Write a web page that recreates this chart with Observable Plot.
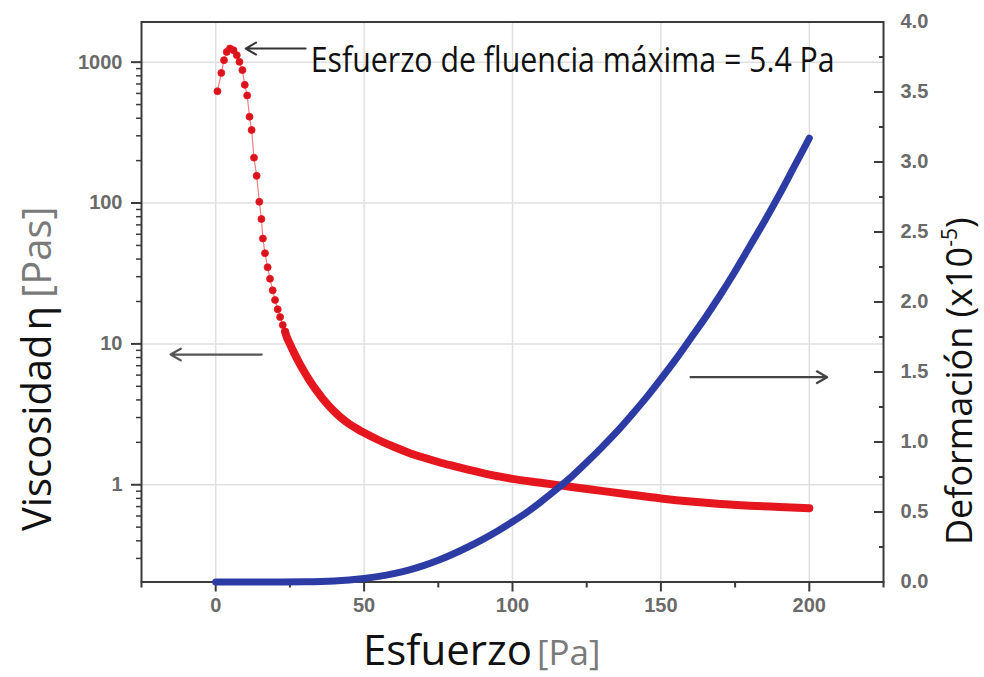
<!DOCTYPE html>
<html><head><meta charset="utf-8">
<script src="https://cdn.jsdelivr.net/npm/d3@7"></script>
<script src="https://cdn.jsdelivr.net/npm/@observablehq/plot@0.6"></script>
<style>
html,body{margin:0;padding:0;background:#fff;}
#wrap{position:relative;width:984px;height:677px;}
#wrap svg{position:absolute;left:0;top:0;}
</style></head><body><div id="wrap"></div>
<script>
// ---- data ----
// viscosity (Pa·s), sparse dotted part
const viscDotStress = [0.6,1.9,2.8,3.7,4.8,6.0,7.1,8.0,9.0,9.8,10.6,11.4,12.1,12.9,13.8,14.7,15.4,15.9,16.6,17.5,18.3,19.2,20.0,20.9,21.7,22.6,23.4];
const viscDotValue  = [622,839,1033,1183,1251,1216,1121,1005,878,690,580,410,330,210,156,102,77,56,44,35,29,24,20.5,17.6,15.5,13.6,12.2];
// viscosity, dense part (points merge into a thick line)
const viscDenseStress = [23.4,24,25,26,27,28,29,30,32,34,36,38,40,42,45,48,50,55,60,65,70,75,80,85,90,95,100,110,116,120,130,140,150,160,170,180,190,200];
const viscDenseValue  = [12.2,11.1,10,9.0,8.15,7.42,6.8,6.26,5.35,4.65,4.1,3.66,3.3,3.02,2.7,2.47,2.34,2.07,1.86,1.69,1.56,1.45,1.36,1.28,1.21,1.15,1.10,1.03,0.99,0.965,0.905,0.85,0.80,0.76,0.73,0.71,0.695,0.68];
// deformation (x10^-5)
const strainStress = [0,10,20,30,40,45,50,55,60,65,70,75,80,85,90,95,100,105,110,115,120,125,130,135,140,145,150,155,160,165,170,175,180,185,190,195,200];
const strainValue  = [0,0,0,0.001,0.007,0.014,0.025,0.04,0.06,0.085,0.117,0.155,0.2,0.25,0.305,0.365,0.43,0.5,0.58,0.665,0.755,0.855,0.96,1.07,1.19,1.315,1.45,1.59,1.74,1.89,2.05,2.22,2.4,2.58,2.77,2.97,3.17];

// ticks
const xTicks = [0,50,100,150,200];
const xMinorTicks = [-25,25,75,125,175,225];
const yLeftTicks = [1,10,100,1000];
const yLeftMinorTicks = [0.3,0.4,0.5,0.6,0.7,0.8,0.9,2,3,4,5,6,7,8,9,20,30,40,50,60,70,80,90,200,300,400,500,600,700,800,900];
const yRightTicks = [0,0.5,1,1.5,2,2.5,3,3.5,4];
const yRightMinorTicks = [0.25,0.75,1.25,1.75,2.25,2.75,3.25,3.75];

// annotations
const annotText = ["Esfuerzo de fluencia máxima = 5.4 Pa"];
const annotTextX = [32];
const annotTextY = [1030];
const peakArrow = {x1:30.3, x2:10.1, y:1250};
const leftArrow = {x1:15.5, x2:-15.2, y:8.4};
const rightArrow = {x1:160, x2:206, y:1.463};

// ---- layout ----
const W=984, H=677, mL=141, mR=101, mT=21.5, mB=95.5;
const xDomain=[-25,225];
const RED="#e5161d", BLUE="#2d3ca4", AX="#3a3a3a", TICKTXT="#6a6a6a", GRID="#e0e0e0";

const viscDots = viscDotStress.map((s,i)=>({s, v:viscDotValue[i]}));
const viscDense = viscDenseStress.map((s,i)=>({s, v:viscDenseValue[i]}));
const viscAll = viscDots.concat(viscDense.slice(1));
const strain = strainStress.map((s,i)=>({s, v:strainValue[i]}));
const annot = annotText.map((t,i)=>({t, x:annotTextX[i], y:annotTextY[i]}));

const tickFont = {fontSize:20, fontWeight:"bold", fontFamily:"Liberation Sans, Arial, sans-serif"};

const plotA = Plot.plot({
  width:W, height:H, marginLeft:mL, marginRight:mR, marginTop:mT, marginBottom:mB,
  style:{background:"white", overflow:"visible"},
  x:{domain:xDomain, label:null},
  y:{type:"log", domain:[0.204,1928], label:null},
  marks:[
    Plot.gridX(xTicks,{stroke:GRID, strokeOpacity:1, strokeWidth:1.5}),
    Plot.gridY(yLeftTicks,{stroke:GRID, strokeOpacity:1, strokeWidth:1.5}),
    Plot.axisX({ticks:xTicks, tickSize:10, fill:"none", stroke:AX, strokeWidth:2, label:null}),
    Plot.axisX({ticks:xMinorTicks, tickSize:6, fill:"none", stroke:AX, strokeWidth:2, label:null}),
    Plot.axisX({ticks:xTicks, tickSize:0, tickPadding:16, fill:TICKTXT, ...tickFont, label:null}),
    Plot.axisY({ticks:yLeftTicks, tickSize:10, fill:"none", stroke:AX, strokeWidth:2, label:null}),
    Plot.axisY({ticks:yLeftMinorTicks, tickSize:5, fill:"none", stroke:AX, strokeWidth:1.5, label:null}),
    Plot.axisY({ticks:yLeftTicks, tickSize:0, tickPadding:19, fill:TICKTXT, tickFormat:d=>String(d), ...tickFont, label:null}),
    Plot.frame({stroke:AX, strokeWidth:2}),
    Plot.line(viscAll,{x:"s", y:"v", stroke:RED, strokeWidth:1.2, strokeOpacity:0.55}),
    Plot.line(viscDense,{x:"s", y:"v", stroke:RED, strokeWidth:8, curve:"catmull-rom", strokeLinecap:"round"}),
    Plot.dot(viscDots,{x:"s", y:"v", r:3.5, fill:"#da141c", stroke:RED, strokeWidth:0.8}),
    Plot.arrow([peakArrow],{x1:"x1", x2:"x2", y1:"y", y2:"y", stroke:"#333", strokeWidth:2, headLength:9}),
    Plot.arrow([leftArrow],{x1:"x1", x2:"x2", y1:"y", y2:"y", stroke:"#555", strokeWidth:2.2, headLength:8}),
    Plot.text(annot,{x:"x", y:"y", text:"t", textAnchor:"start", lineAnchor:"middle", fontSize:35, fill:"#111", fontFamily:"Open Sans, sans-serif"})
  ]
});

const plotB = Plot.plot({
  width:W, height:H, marginLeft:mL, marginRight:mR, marginTop:mT, marginBottom:mB,
  style:{background:"transparent", overflow:"visible"},
  x:{domain:xDomain, label:null, axis:null},
  y:{domain:[0,4], label:null, axis:null},
  marks:[
    Plot.line(strain,{x:"s", y:"v", stroke:BLUE, strokeWidth:7, curve:"catmull-rom", strokeLinecap:"round"}),
    Plot.axisY({anchor:"right", ticks:yRightTicks, tickSize:10, dx:-10, fill:"none", stroke:AX, strokeWidth:2, label:null}),
    Plot.axisY({anchor:"right", ticks:yRightMinorTicks, tickSize:5, dx:-5, fill:"none", stroke:AX, strokeWidth:2, label:null}),
    Plot.axisY({anchor:"right", ticks:yRightTicks, tickSize:0, tickPadding:17, fill:TICKTXT, tickFormat:d3.format(".1f"), ...tickFont, label:null}),
    Plot.arrow([rightArrow],{x1:"x1", x2:"x2", y1:"y", y2:"y", stroke:"#444", strokeWidth:2.2, headLength:8})
  ]
});

const wrap = document.getElementById("wrap");
wrap.appendChild(plotA);
wrap.appendChild(plotB);

// squeeze annotation to the condensed width of the original
d3.select(plotA).selectAll('g[aria-label="text"] text').attr("textLength",524).attr("lengthAdjust","spacingAndGlyphs");

// axis titles
const svg = d3.select(plotB);
const bt = svg.append("text").attr("x",363).attr("y",665).attr("text-anchor","start").attr("font-family","Open Sans, sans-serif");
bt.append("tspan").attr("font-size",42).attr("fill","#111").text("Esfuerzo");
bt.append("tspan").attr("font-size",35).attr("fill","#7a7a7a").attr("dx",5).text("[Pa]");

const lt = svg.append("text").attr("transform","translate(51,531) rotate(-90)").attr("text-anchor","start").attr("font-family","Open Sans, sans-serif").attr("font-size",40);
lt.append("tspan").attr("fill","#111").text("Viscosidad");
lt.append("tspan").attr("fill","#111").attr("dx",4).text("η");
lt.append("tspan").attr("fill","#7a7a7a").attr("dx",8).text("[Pas]");

const rt = svg.append("text").attr("transform","translate(972,545) rotate(-90)").attr("text-anchor","start").attr("font-family","Open Sans, sans-serif").attr("font-size",36).attr("fill","#111");
rt.append("tspan").text("Deformación (x10");
rt.append("tspan").attr("font-size",21).attr("dy",-15).text("-5");
rt.append("tspan").attr("dy",15).text(")");
</script></body></html>
